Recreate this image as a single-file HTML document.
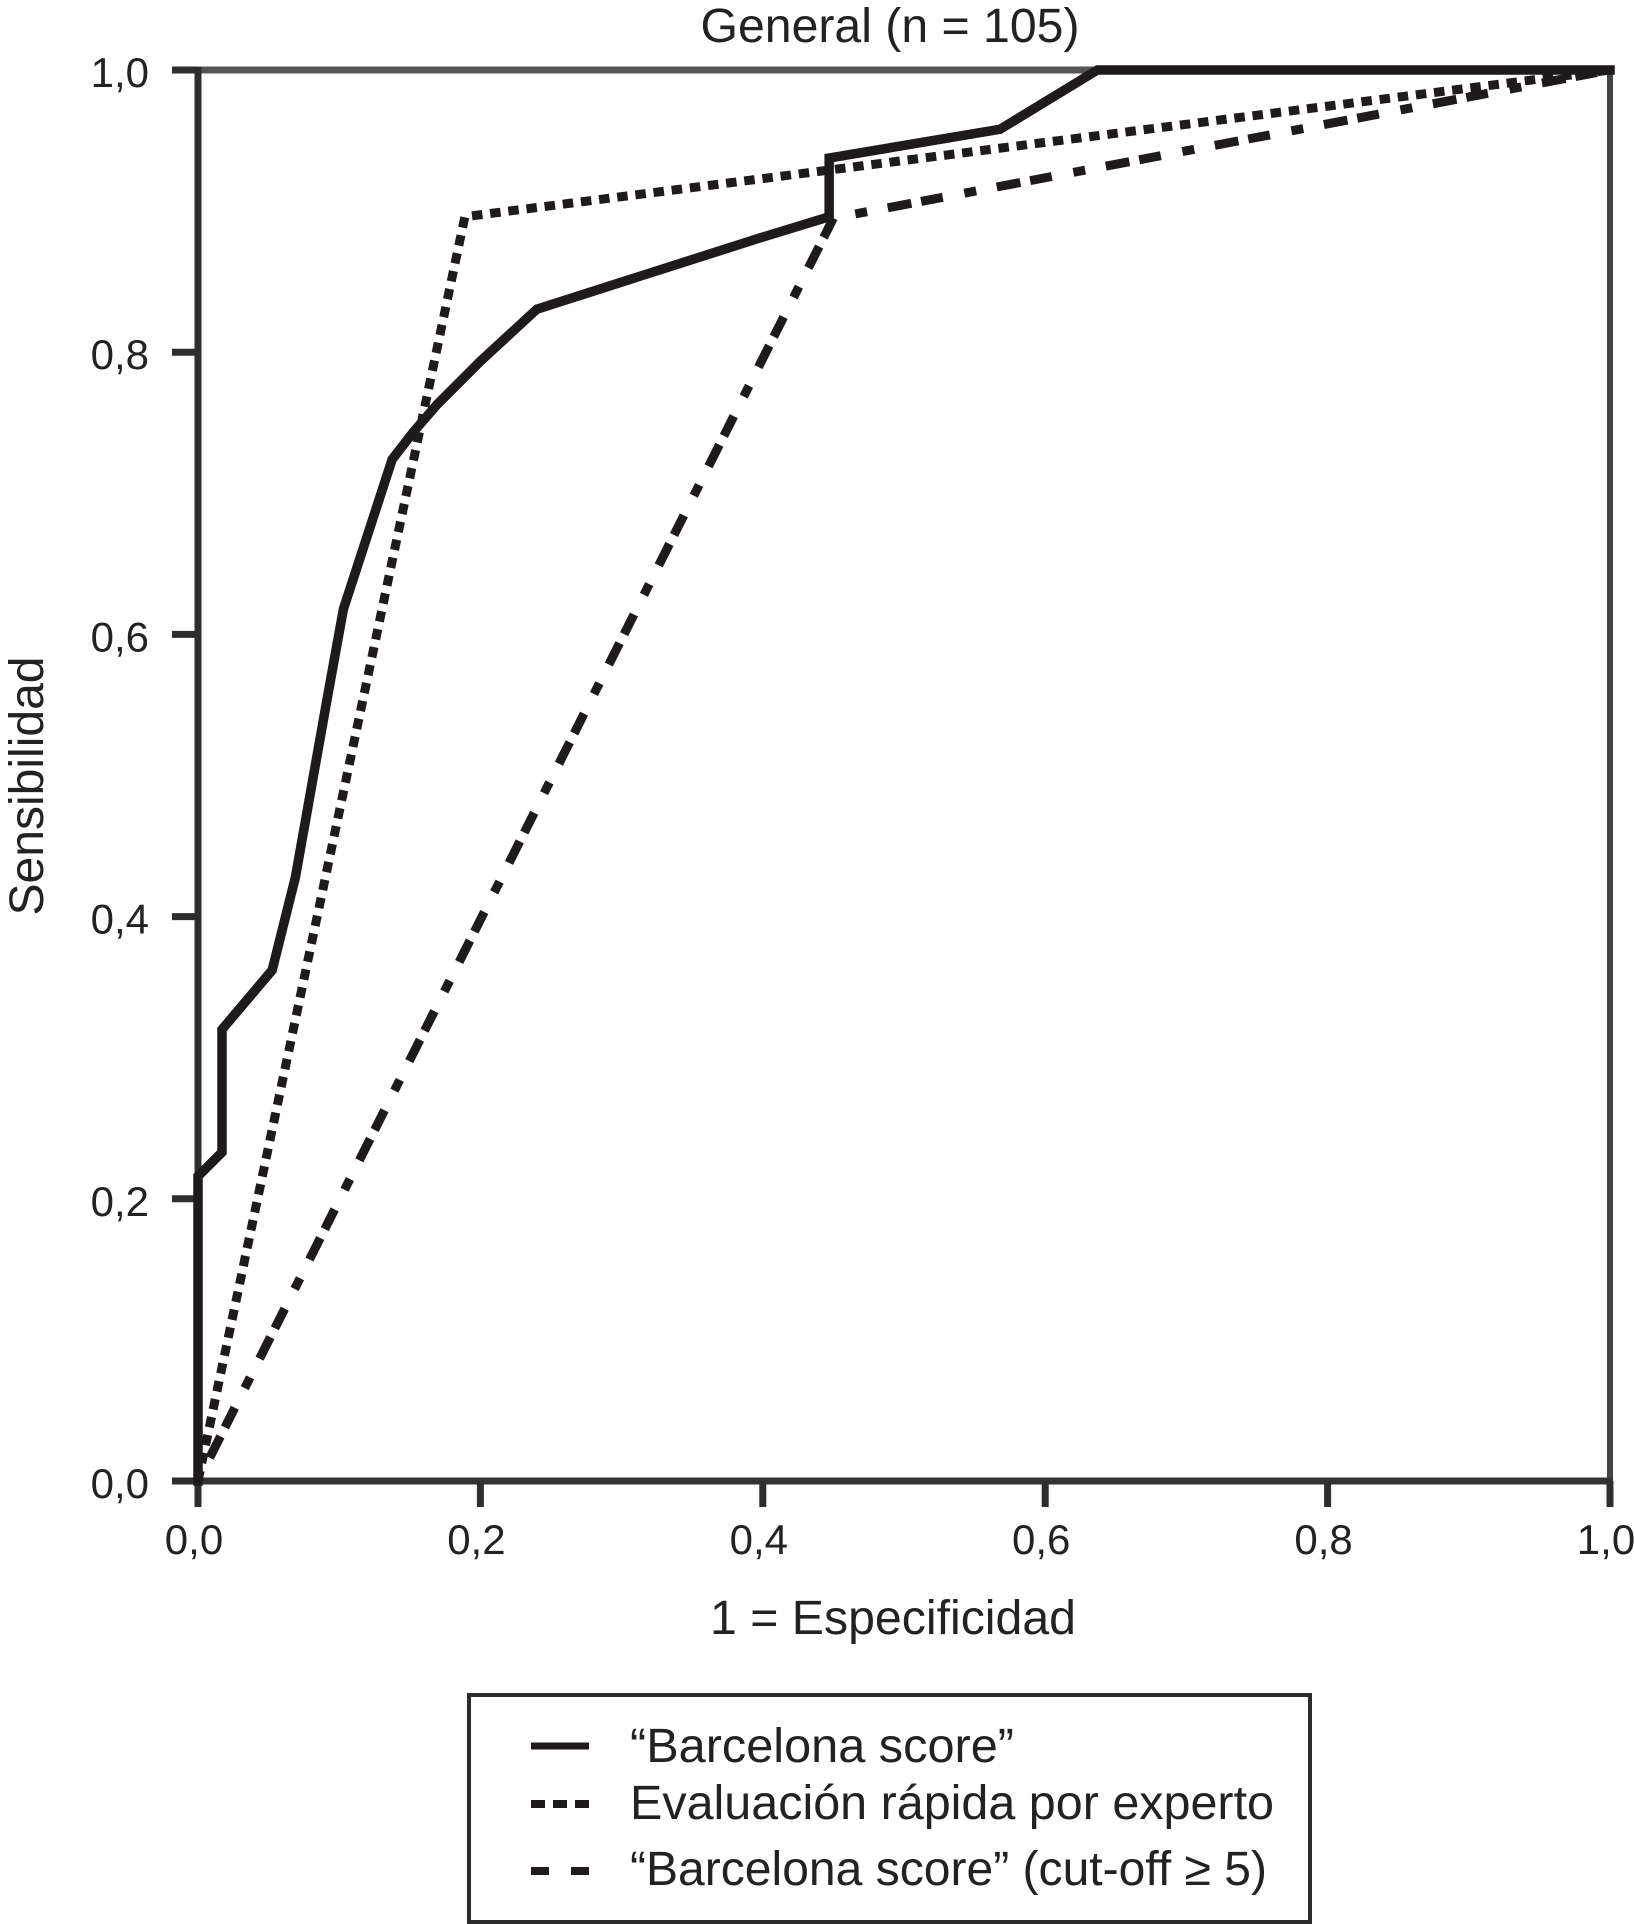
<!DOCTYPE html>
<html lang="es">
<head>
<meta charset="utf-8">
<title>General (n = 105)</title>
<style>
  html, body { margin: 0; padding: 0; background: #fff; }
  body { width: 1634px; height: 1924px; overflow: hidden; }
  svg { display: block; }
  text { font-family: "Liberation Sans", sans-serif; fill: #222; }
</style>
</head>
<body>
<svg id="chart" xmlns="http://www.w3.org/2000/svg" width="1634" height="1924" viewBox="0 0 1634 1924">
  <rect x="0" y="0" width="1634" height="1924" fill="#ffffff"/>
  <text x="890" y="42" font-size="48" text-anchor="middle" textLength="379" lengthAdjust="spacingAndGlyphs">General (n = 105)</text>
  <text x="893" y="1634" font-size="48" text-anchor="middle" textLength="366" lengthAdjust="spacingAndGlyphs">1 = Especificidad</text>
  <text transform="translate(43 786) rotate(-90)" font-size="48" text-anchor="middle" textLength="259" lengthAdjust="spacingAndGlyphs">Sensibilidad</text>

  <g id="axes"></g>
  <g id="series"></g>

  <g>
    <rect x="469" y="1695" width="841" height="227" fill="#fff" stroke="#2b2b2b" stroke-width="4"/>
    <g>
      <line x1="531" y1="1746" x2="589" y2="1746" stroke="#1f1a1b" stroke-width="7"/>
      <text x="630" y="1762" font-size="48" textLength="384" lengthAdjust="spacingAndGlyphs">“Barcelona score”</text>
    </g>
    <g>
      <line x1="531" y1="1804" x2="589" y2="1804" stroke="#1f1a1b" stroke-width="8" stroke-dasharray="14 8"/>
      <text x="630" y="1819" font-size="48" textLength="644" lengthAdjust="spacingAndGlyphs">Evaluación rápida por experto</text>
    </g>
    <g>
      <line x1="531" y1="1871" x2="589" y2="1871" stroke="#1f1a1b" stroke-width="8" stroke-dasharray="18 22"/>
      <text x="630" y="1885" font-size="48" textLength="637" lengthAdjust="spacingAndGlyphs">“Barcelona score” (cut-off ≥ 5)</text>
    </g>
  </g>
</svg>
<script>
const xTickValues = [0, 0.2, 0.4, 0.6, 0.8, 1];
const yTickValues = [0, 0.2, 0.4, 0.6, 0.8, 1];
const xTickLabels = ['0,0', '0,2', '0,4', '0,6', '0,8', '1,0'];
const yTickLabels = ['0,0', '0,2', '0,4', '0,6', '0,8', '1,0'];

const barcelonaFpr = [0, 0, 0.017, 0.017, 0.0525, 0.069, 0.0914, 0.103, 0.1375, 0.1524, 0.1694, 0.2, 0.24, 0.398, 0.447, 0.447, 0.568, 0.637, 1];
const barcelonaTpr = [0, 0.216, 0.233, 0.32, 0.362, 0.428, 0.554, 0.618, 0.724, 0.7433, 0.763, 0.7936, 0.8305, 0.881, 0.896, 0.9376, 0.958, 1, 1];

const expertFpr = [0, 0.189, 1];
const expertTpr = [0, 0.896, 1];

const cutoffFpr = [0, 0.45, 1];
const cutoffTpr = [0, 0.895, 1];

const SVG_NS = 'http://www.w3.org/2000/svg';
const plotLeft = 198, plotRight = 1610, plotBottom = 1481, plotTop = 70;
const xScale = v => plotLeft + v * (plotRight - plotLeft);
const yScale = v => plotBottom - v * (plotBottom - plotTop);
const axesGroup = document.getElementById('axes');
const seriesGroup = document.getElementById('series');

function addLine(parent, x1, y1, x2, y2, color, width) {
  const el = document.createElementNS(SVG_NS, 'line');
  el.setAttribute('x1', x1);
  el.setAttribute('y1', y1);
  el.setAttribute('x2', x2);
  el.setAttribute('y2', y2);
  el.setAttribute('stroke', color);
  el.setAttribute('stroke-width', width);
  parent.appendChild(el);
  return el;
}

function addLabel(parent, x, y, str, anchor) {
  const el = document.createElementNS(SVG_NS, 'text');
  el.setAttribute('x', x);
  el.setAttribute('y', y);
  el.setAttribute('font-size', '42');
  el.setAttribute('text-anchor', anchor);
  el.textContent = str;
  parent.appendChild(el);
  return el;
}

function addSeries(xs, ys, width, dash, offset) {
  const el = document.createElementNS(SVG_NS, 'polyline');
  el.setAttribute('points', xs.map((x, i) => xScale(x) + ',' + yScale(ys[i])).join(' '));
  el.setAttribute('fill', 'none');
  el.setAttribute('stroke', '#1f1a1b');
  el.setAttribute('stroke-width', width);
  el.setAttribute('stroke-linejoin', 'miter');
  if (dash) el.setAttribute('stroke-dasharray', dash);
  if (offset) el.setAttribute('stroke-dashoffset', offset);
  seriesGroup.appendChild(el);
  return el;
}

const topFrame = addLine(axesGroup, plotLeft, plotTop, plotRight, plotTop, '#555555', 7);



const rightFrame = addLine(axesGroup, plotRight, plotTop, plotRight, plotBottom, '#444444', 6);



const xAxisLine = addLine(axesGroup, plotLeft, plotBottom, plotRight + 3, plotBottom, '#333333', 7);



const yAxisLine = addLine(axesGroup, plotLeft, plotTop - 3, plotLeft, plotBottom, '#2e2e2e', 7);



xTickValues.forEach((v, i) => {
  const tick = addLine(axesGroup, xScale(v), plotBottom, xScale(v), plotBottom + 26, '#2e2e2e', 7);
  
  
  const label = addLabel(axesGroup, xScale(v) - 4, 1554, xTickLabels[i], 'middle');
  
  
});

yTickValues.forEach((v, i) => {
  const tick = addLine(axesGroup, plotLeft - 26, yScale(v), plotLeft, yScale(v), '#2e2e2e', 7);
  
  
  const label = addLabel(axesGroup, 149, yScale(v) + 17, yTickLabels[i], 'end');
  
  
});

const cutoffLine = addSeries(cutoffFpr, cutoffTpr, 9, '24 10 22 22 12 21', -26);



const expertLine = addSeries(expertFpr, expertTpr, 9, '10.5 7.8');



const barcelonaLine = addSeries(barcelonaFpr, barcelonaTpr, 9.5);
barcelonaLine.setAttribute('stroke-linecap', 'square');


</script>
</body>
</html>
